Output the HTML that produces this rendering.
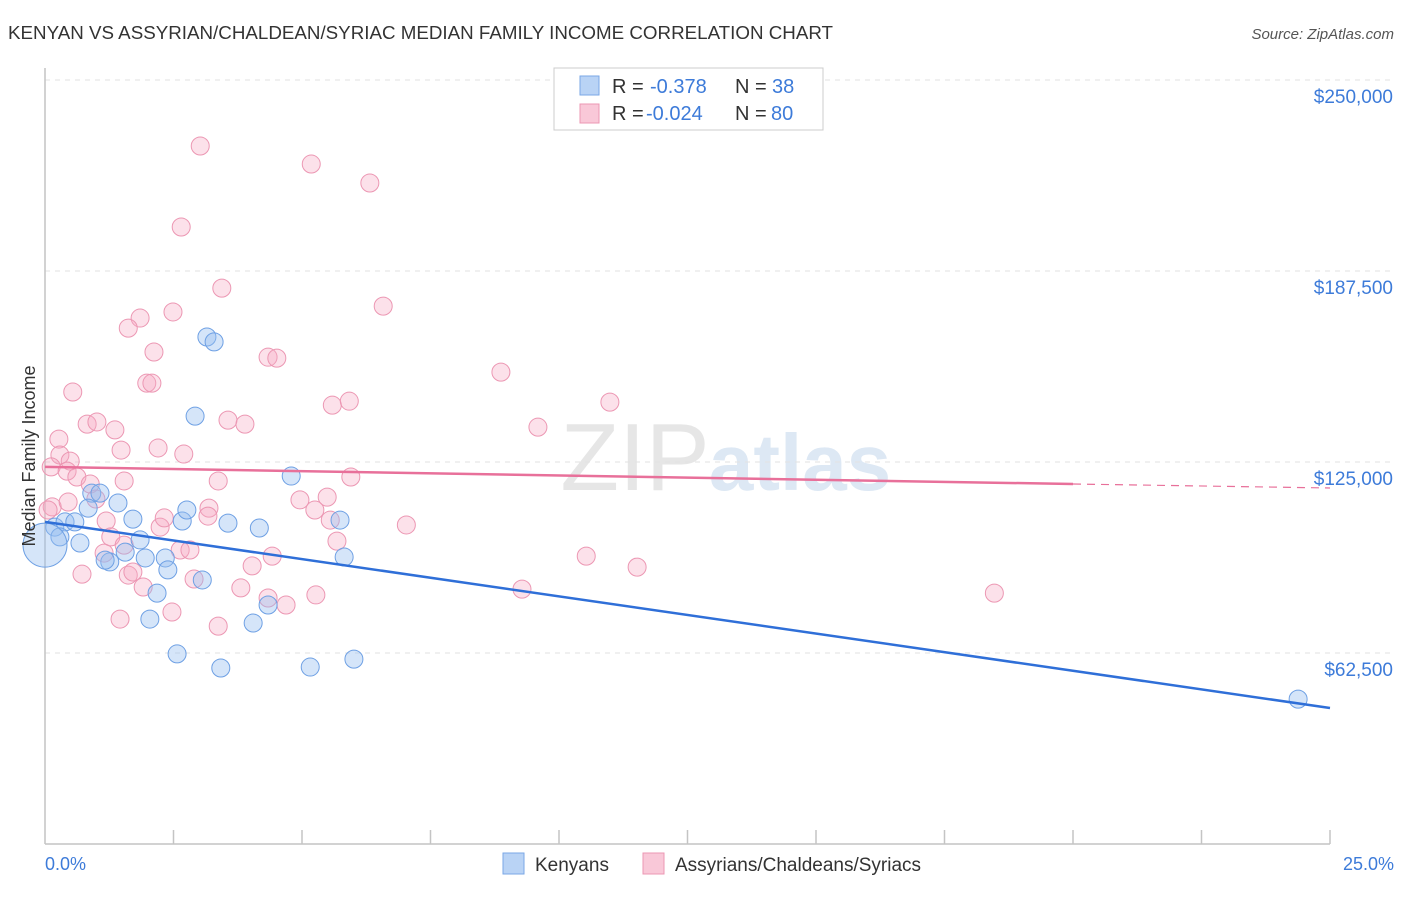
<!DOCTYPE html>
<html><head><meta charset="utf-8"><style>
body{margin:0;background:#fff;font-family:"Liberation Sans",sans-serif;}
svg text{font-family:"Liberation Sans",sans-serif;}
</style></head><body>
<svg id="chart" width="1406" height="892" xmlns="http://www.w3.org/2000/svg">
<text x="8" y="39" font-size="18" fill="#333" textLength="825" lengthAdjust="spacingAndGlyphs">KENYAN VS ASSYRIAN/CHALDEAN/SYRIAC MEDIAN FAMILY INCOME CORRELATION CHART</text>
<text x="1394" y="39" font-size="15" fill="#555" text-anchor="end" font-style="italic">Source: ZipAtlas.com</text>
<g>
<text x="635" y="490" font-size="96" fill="#e6e6e6" font-family="Liberation Serif" text-anchor="middle">ZIP</text>
<text x="800" y="490" font-size="80" fill="#dde8f4" text-anchor="middle" font-weight="bold">atlas</text>
</g>
<g id="grid"></g>
<g id="axes"></g>
<g id="marks"></g>
<text x="35" y="456" font-size="18" fill="#333" text-anchor="middle" transform="rotate(-90 35 456)">Median Family Income</text>
<text x="45" y="870" font-size="18" fill="#3d7bd9">0.0%</text>
<text x="1394" y="870" font-size="18" fill="#3d7bd9" text-anchor="end">25.0%</text>
<g>
<rect x="554" y="68" width="269" height="62" fill="#fff" stroke="#ccc"/>
<rect x="580" y="76" width="19" height="19" fill="#b9d3f5" stroke="#7aa7e6"/>
<rect x="580" y="104" width="19" height="19" fill="#f9c8d8" stroke="#ec97b3"/>
<text x="612" y="93" font-size="20" fill="#333">R =</text>
<text x="650" y="93" font-size="20" fill="#3d7bd9">-0.378</text>
<text x="735" y="93" font-size="20" fill="#333">N =</text>
<text x="772" y="93" font-size="20" fill="#3d7bd9">38</text>
<text x="612" y="120" font-size="20" fill="#333">R =</text>
<text x="646" y="120" font-size="20" fill="#3d7bd9">-0.024</text>
<text x="735" y="120" font-size="20" fill="#333">N =</text>
<text x="771" y="120" font-size="20" fill="#3d7bd9">80</text>
</g>
<g>
<rect x="503" y="853" width="21" height="21" fill="#b9d3f5" stroke="#7aa7e6"/>
<text x="535" y="871" font-size="19" fill="#333">Kenyans</text>
<rect x="643" y="853" width="21" height="21" fill="#f9c8d8" stroke="#ec97b3"/>
<text x="675" y="871" font-size="19" fill="#333">Assyrians/Chaldeans/Syriacs</text>
</g>
</svg>
<script>
const yTicks=[62500,125000,187500,250000];
const yTickLabels=["$62,500","$125,000","$187,500","$250,000"];
const kenX=[0.19,0.39,0.58,0.29,0.68,0.91,1.07,0.84,1.42,1.26,1.17,1.56,1.71,1.85,1.95,2.34,2.18,2.04,2.39,2.67,2.76,3.06,2.92,3.15,3.29,3.56,3.42,4.05,4.17,4.34,4.79,5.16,5.74,5.82,6.01,2.57,24.38,0];
const kenY=[103.7,105.4,105.4,100.5,98.5,114.8,114.8,109.9,111.6,92.3,92.9,95.5,106.3,99.5,93.6,93.6,82.1,73.6,89.7,105.7,109.3,86.4,140.0,165.9,164.3,105.0,57.6,72.3,103.4,78.2,120.4,57.9,106.0,93.9,60.5,62.2,47.4,97.8];
const assX=[3.02,5.18,6.32,2.65,3.44,6.58,1.85,2.49,1.62,2.12,4.34,4.51,1.98,2.08,0.54,8.87,5.59,5.92,10.99,3.56,3.89,0.82,1.01,1.36,9.59,0.27,1.48,2.20,2.70,0.29,0.49,0.12,0.43,0.62,1.54,3.37,5.95,0.88,0.14,0.45,0.99,3.19,4.96,5.49,5.25,1.19,2.24,2.32,3.17,5.55,7.03,1.28,5.68,2.63,1.54,1.15,4.42,10.53,11.52,4.03,1.62,1.71,2.90,5.27,0.72,1.91,3.81,4.34,4.69,9.28,18.47,2.47,1.46,3.37,0.06,2.82];
const assY=[228.4,222.5,216.3,201.9,181.9,176.0,172.1,174.1,168.8,161.0,159.3,159.0,150.8,150.8,147.9,154.4,143.6,144.9,144.6,138.7,137.4,137.4,138.1,135.5,136.4,132.5,128.9,129.6,127.6,127.3,125.3,123.4,122.0,120.1,118.8,118.8,120.1,117.8,110.3,111.9,112.9,109.9,112.6,113.5,109.3,105.7,103.7,106.7,107.3,106.0,104.4,100.5,99.1,96.2,97.8,95.2,94.2,94.2,90.6,91.0,88.0,89.0,86.7,81.5,88.3,84.1,83.8,80.5,78.2,83.4,82.1,75.9,73.6,71.3,109.3,96.2];
const kenTrend=[105.4,44.5];
const assTrend=[123.4,117.8,116.5];
const X0=45,X1=1330,Y0=844,Y1=80;
const xs=v=>X0+v/25*(X1-X0);
const ys=v=>Y0-v/250000*(Y0-Y1);
const NS="http://www.w3.org/2000/svg";
function mk(p,t,a){const e=document.createElementNS(NS,t);for(const k in a)e.setAttribute(k,a[k]);document.getElementById(p).appendChild(e);return e;}
yTicks.forEach((v,i)=>{
 const g=mk('grid','line',{x1:X0,x2:1394,y1:ys(v),y2:ys(v),stroke:'#e2e2e2','stroke-dasharray':'5,5'});
 
 
 const t=mk('grid','text',{x:1393,y:ys(v)+23,'font-size':19,fill:'#3d7bd9','text-anchor':'end'});
 t.textContent=yTickLabels[i];
 
 
});
const tg=mk('grid','line',{x1:X0,x2:1394,y1:Y1,y2:Y1,stroke:'#e2e2e2','stroke-dasharray':'5,5'});
const ya=mk('axes','line',{x1:X0,x2:X0,y1:68,y2:Y0,stroke:'#c4c4c4','stroke-width':1.5});


const xa=mk('axes','line',{x1:X0,x2:X1,y1:Y0,y2:Y0,stroke:'#c4c4c4','stroke-width':1.5});


for(let i=1;i<=10;i++){const t=mk('axes','line',{x1:xs(i*2.5),x2:xs(i*2.5),y1:Y0-14,y2:Y0,stroke:'#c4c4c4','stroke-width':1.5});
 
 }
assX.forEach((x,i)=>{const c=mk('marks','circle',{cx:xs(x),cy:ys(assY[i]*1000),r:9,fill:'rgba(246,170,195,0.35)',stroke:'#ec97b3','stroke-width':1});
 
 });
kenX.forEach((x,i)=>{const c=mk('marks','circle',{cx:xs(x),cy:ys(kenY[i]*1000),r:i==kenX.length-1?22:9,fill:'rgba(150,190,240,0.4)',stroke:'#6ea0e4','stroke-width':1});
 
 });
const kl=mk('marks','line',{x1:xs(0),y1:ys(kenTrend[0]*1000),x2:xs(25),y2:ys(kenTrend[1]*1000),stroke:'#2f6fd8','stroke-width':2.5});


const al=mk('marks','line',{x1:xs(0),y1:ys(assTrend[0]*1000),x2:xs(20),y2:ys(assTrend[1]*1000),stroke:'#e8709a','stroke-width':2.5});


const ad=mk('marks','line',{x1:xs(20),y1:ys(assTrend[1]*1000),x2:xs(25),y2:ys(assTrend[2]*1000),stroke:'#e8709a','stroke-width':1.2,'stroke-dasharray':'8,6'});


</script>
</body></html>
